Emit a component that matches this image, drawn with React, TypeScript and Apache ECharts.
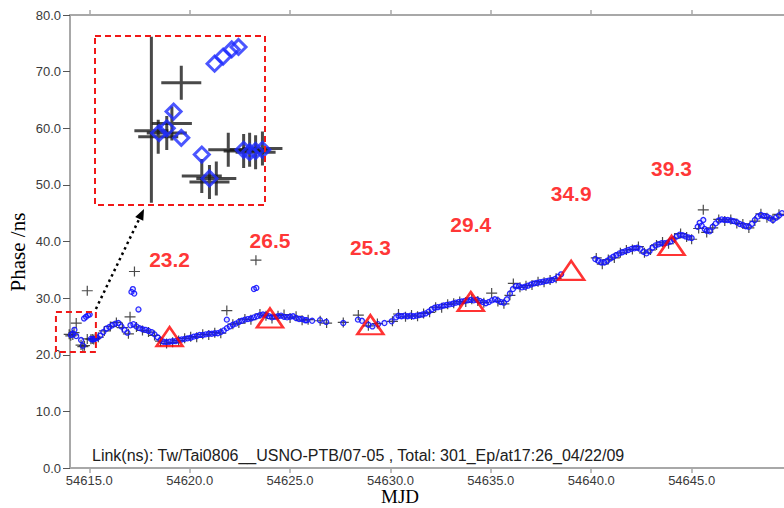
import React, { useEffect, useRef } from "react";
import * as echarts from "echarts";

// ---------- axes ----------
const xMin = 54614.04;
const xMax = 54649.6;
const xTickValues = [54615, 54620, 54625, 54630, 54635, 54640, 54645];
const yMin = 0;
const yMax = 80;
const yStep = 10;

// ---------- annotated values (red triangles) ----------
const triangleMjd = [54619, 54624, 54629, 54634, 54639, 54644];
const triangleValue = [23.2, 26.5, 25.3, 29.4, 34.9, 39.3];

// ---------- blue series (circles) ----------
const blueEarly: [number, number][] = [
  [54614.09, 23.5], [54614.18, 23.7], [54614.26, 24.4], [54614.35, 23.3], [54614.59, 22.6],
  [54614.68, 21.6], [54614.74, 26.4], [54614.84, 26.7], [54614.94, 27.0], [54615.02, 27.1],
  [54615.08, 22.8], [54615.15, 22.7], [54615.22, 22.75], [54615.3, 22.8],
];
const blueA: [number, number][] = [
  [54615.4, 23.0], [54615.55, 23.4], [54615.7, 24.0], [54615.85, 24.6], [54616.0, 24.9],
  [54616.15, 25.2], [54616.3, 25.5], [54616.45, 25.6], [54616.6, 25.0], [54616.75, 24.4],
  [54616.9, 23.9], [54617.05, 25.2], [54617.2, 25.4], [54617.35, 25.0], [54617.5, 24.7],
  [54617.65, 24.5], [54617.8, 24.4], [54617.95, 24.2], [54618.1, 24.0], [54618.25, 23.6],
  [54618.4, 23.1], [54618.55, 22.6], [54618.7, 22.3], [54618.85, 22.2], [54619.0, 22.3],
  [54619.15, 22.4], [54619.3, 22.4], [54619.45, 22.6], [54619.6, 22.7], [54619.75, 22.8],
  [54619.9, 22.9], [54620.05, 23.0], [54620.2, 23.2], [54620.35, 23.3], [54620.5, 23.5],
  [54620.65, 23.5], [54620.8, 23.6], [54620.95, 23.7], [54621.1, 23.7], [54621.25, 23.8],
  [54621.4, 23.8], [54621.55, 24.0], [54621.7, 24.3], [54621.85, 24.7], [54622.0, 25.0],
  [54622.15, 25.3], [54622.3, 25.5], [54622.45, 25.8], [54622.6, 26.0], [54622.75, 26.2],
  [54622.9, 26.3], [54623.05, 26.4], [54623.2, 26.6], [54623.35, 26.8], [54623.5, 27.0],
  [54623.65, 27.1], [54623.8, 27.0], [54623.95, 26.8], [54624.1, 26.6], [54624.25, 26.7],
  [54624.4, 26.8], [54624.55, 26.9], [54624.7, 26.7], [54624.85, 26.6], [54625.0, 26.7],
  [54625.15, 26.8], [54625.3, 26.5], [54625.45, 26.3], [54625.6, 26.3], [54625.75, 26.1],
];
const blueB: [number, number][] = [
  [54625.83, 26.1], [54626.1, 26.0], [54626.49, 26.1], [54626.8, 25.8], [54627.65, 25.6],
  [54628.38, 26.2], [54628.58, 26.0], [54628.9, 25.3], [54629.1, 25.0], [54629.38, 25.4],
  [54629.7, 25.6], [54630.06, 25.9], [54630.28, 26.6],
];
const blueC: [number, number][] = [
  [54630.4, 26.9], [54630.55, 26.8], [54630.7, 26.9], [54630.85, 26.8], [54631.0, 26.9],
  [54631.15, 26.8], [54631.3, 26.9], [54631.45, 27.0], [54631.6, 27.1], [54631.75, 27.3],
  [54631.9, 27.6], [54632.05, 28.0], [54632.2, 28.3], [54632.35, 28.4], [54632.5, 28.5],
  [54632.65, 28.7], [54632.8, 28.8], [54632.95, 28.9], [54633.1, 29.0], [54633.25, 29.2],
  [54633.4, 29.3], [54633.55, 29.4], [54633.7, 29.5], [54633.85, 29.6], [54634.0, 29.7],
  [54634.15, 29.6], [54634.3, 29.7], [54634.45, 29.5], [54634.6, 29.3], [54634.75, 29.1],
  [54634.9, 29.3], [54635.05, 29.6], [54635.2, 29.8], [54635.35, 29.6], [54635.5, 29.3],
  [54635.65, 29.2], [54635.8, 29.8], [54635.95, 30.8], [54636.1, 31.6], [54636.25, 32.1],
  [54636.4, 32.1], [54636.55, 31.9], [54636.7, 32.0], [54636.85, 32.2], [54637.0, 32.4],
  [54637.15, 32.6], [54637.3, 32.7], [54637.45, 32.8], [54637.6, 32.9], [54637.75, 33.0],
  [54637.9, 33.1], [54638.05, 33.2], [54638.2, 33.4], [54638.35, 33.8], [54638.5, 34.2],
];
const blueD: [number, number][] = [
  [54640.2, 36.9], [54640.35, 36.6], [54640.5, 36.3], [54640.65, 36.3], [54640.8, 36.6],
  [54640.95, 37.0], [54641.1, 37.3], [54641.25, 37.6], [54641.4, 37.9], [54641.55, 38.1],
  [54641.7, 38.3], [54641.85, 38.5], [54642.0, 38.7], [54642.15, 38.8], [54642.3, 38.9],
  [54642.45, 38.7], [54642.6, 38.2], [54642.75, 37.9], [54642.9, 38.3], [54643.05, 38.9],
  [54643.2, 39.3], [54643.35, 39.5], [54643.5, 39.7], [54643.65, 39.7], [54643.8, 39.8],
  [54643.95, 40.0], [54644.1, 40.4], [54644.25, 40.9], [54644.4, 41.2], [54644.55, 41.1],
  [54644.7, 40.9], [54644.85, 40.7], [54645.0, 40.6],
];
const blueE: [number, number][] = [
  [54645.3, 42.6], [54645.4, 43.3], [54645.5, 42.8], [54645.58, 43.8], [54645.65, 42.2],
  [54645.75, 41.9], [54645.9, 41.8], [54646.05, 42.6], [54646.2, 43.2], [54646.35, 43.7],
  [54646.5, 43.9], [54646.65, 43.8], [54646.8, 43.8], [54646.95, 43.7], [54647.1, 43.6],
  [54647.25, 43.4], [54647.4, 43.1], [54647.55, 42.9], [54647.7, 42.7], [54647.85, 42.6],
  [54648.0, 43.1], [54648.15, 43.8], [54648.3, 44.4], [54648.45, 44.7], [54648.6, 44.5],
  [54648.75, 44.4], [54648.9, 44.1], [54649.05, 43.8], [54649.2, 44.2], [54649.35, 44.6],
  [54649.5, 45.0],
];
const blueOutliers: [number, number][] = [
  [54617.1, 31.1], [54617.17, 31.6], [54617.24, 30.8], [54617.45, 28.0],
  [54623.2, 31.6], [54623.32, 31.8], [54621.85, 26.2],
];

// ---------- black series (crosses) ----------
const blackEarly: [number, number][] = [
  [54614.0, 23.6], [54614.08, 23.35], [54614.18, 23.5], [54614.24, 23.9], [54614.35, 25.6],
  [54614.59, 21.7], [54614.68, 21.45], [54614.76, 21.6], [54614.9, 22.8], [54615.08, 22.75],
  [54615.15, 22.8], [54615.22, 22.7], [54615.3, 22.85],
];
const blackMain: [number, number][] = [
  [54615.45, 23.1], [54615.75, 24.2], [54616.05, 25.0], [54616.35, 25.7], [54616.65, 24.8],
  [54616.95, 23.7], [54617.35, 24.9], [54617.65, 24.3], [54617.95, 24.0], [54618.25, 23.4],
  [54618.55, 22.4], [54618.85, 22.0], [54619.15, 22.2], [54619.45, 22.5], [54619.75, 22.9],
  [54620.05, 23.2], [54620.35, 23.1], [54620.65, 23.6], [54620.95, 23.5], [54621.25, 23.9],
  [54621.55, 23.8], [54622.15, 25.4], [54622.45, 25.6], [54622.75, 26.3], [54623.05, 26.2],
  [54623.5, 27.2], [54623.8, 26.9], [54624.1, 26.4], [54624.4, 26.9], [54624.7, 27.1],
  [54625.0, 26.5], [54625.3, 26.8], [54625.6, 26.1], [54625.9, 26.2], [54626.5, 26.0],
  [54626.82, 25.6], [54627.65, 25.7], [54628.4, 27.0], [54628.9, 25.1], [54629.35, 25.5],
  [54630.1, 25.9], [54630.4, 27.2], [54630.75, 26.7], [54631.05, 27.0], [54631.35, 26.8],
  [54631.65, 27.3], [54631.95, 27.5], [54632.25, 28.4], [54632.55, 28.3], [54632.85, 28.9],
  [54633.15, 29.1], [54633.45, 29.4], [54633.75, 29.3], [54634.05, 29.8], [54634.35, 29.5],
  [54634.65, 29.2], [54635.35, 29.4], [54635.65, 29.0], [54635.95, 30.5], [54636.45, 31.9],
  [54636.75, 32.2], [54637.05, 32.3], [54637.35, 32.9], [54637.65, 32.8], [54637.95, 33.2],
  [54638.25, 33.5], [54640.25, 37.1], [54640.55, 36.0], [54640.85, 36.8], [54641.15, 37.1],
  [54641.45, 38.0], [54641.75, 38.5], [54642.05, 38.6], [54642.35, 39.1], [54642.65, 38.0],
  [54642.95, 38.5], [54643.25, 39.4], [54643.55, 39.9], [54643.85, 39.6], [54644.15, 40.6],
  [54644.45, 41.4], [54644.75, 40.8], [54645.0, 40.4], [54645.35, 42.3], [54645.75, 41.6],
  [54646.05, 42.4], [54646.35, 43.9], [54646.65, 43.6], [54646.95, 43.9], [54647.25, 43.2],
  [54647.55, 43.1], [54647.85, 42.4], [54648.15, 43.6], [54648.45, 44.9], [54648.75, 44.2],
  [54649.05, 44.0], [54649.35, 44.8],
];
const blackOutliers: [number, number][] = [
  [54614.9, 31.3], [54617.03, 26.7], [54617.25, 34.7], [54621.85, 27.8], [54623.3, 36.7],
  [54635.04, 30.9], [54636.12, 32.6], [54645.58, 45.6],
];

// ---------- texts ----------
const linkText = "Link(ns): Tw/Tai0806__USNO-PTB/07-05 , Total: 301_Ep/at17:26_04/22/09";
const xName = "MJD";
const yName = "Phase /ns";

// ---------- zoom window (data units) shown in the inset ----------
const zoomMjd = [54613.34, 54615.33];
const zoomPhase = [20.49, 27.56];

// ---------- layout ----------
const W = 784;
const H = 508;
const GRID = { left: 70, top: 15, right: 0, bottom: 40 };
const INSET = { left: 95, top: 36, width: 170, height: 169 };

const SANS = '"Liberation Sans", Arial, Helvetica, sans-serif';
const SERIF = '"Liberation Serif", "Times New Roman", Times, serif';
const RED = "#ff0000";
const BLUE = "#1414ff";
const BLACK = "#2a2a2a";
const AXIS = "#a8a8a8";

const crossSmall = "path://M4.9,0H6.1V4.4H11V5.6H6.1V10H4.9V5.6H0V4.4H4.9Z";
const crossBig = "path://M18.5,0H21.5V15.5H40V18.5H21.5V34H18.5V18.5H0V15.5H18.5Z";
const crossTall = "path://M15.5,0H18.5V92.5H34V95.5H18.5V166H15.5V95.5H0V92.5H15.5Z";

export default function App() {
  const ref = useRef<HTMLDivElement>(null);

  useEffect(() => {
    if (!ref.current) return;
    const chart = echarts.init(ref.current, undefined, { renderer: "svg" });

    const blueAll = [...blueEarly, ...blueA, ...blueB, ...blueC, ...blueD, ...blueE, ...blueOutliers];
    const blackAll = [...blackEarly, ...blackMain, ...blackOutliers];
    const inZoom = (p: [number, number]) =>
      p[0] >= zoomMjd[0] && p[0] <= zoomMjd[1] && p[1] >= zoomPhase[0] && p[1] <= zoomPhase[1];

    const insetBlack = blackEarly.filter(inZoom).map((p, i) => ({
      value: p,
      symbol: i === 0 ? crossTall : crossBig,
      symbolSize: i === 0 ? [34, 166] : [40, 34],
      symbolOffset: i === 0 ? [0, -11] : [0, 0],
    }));
    const insetBlue = blueEarly.filter(inZoom);

    const option: any = {
      animation: false,
      backgroundColor: "#ffffff",
      grid: [
        { ...GRID, containLabel: false },
        { left: INSET.left, top: INSET.top, width: INSET.width, height: INSET.height, show: false },
      ],
      xAxis: [
        {
          type: "value",
          gridIndex: 0,
          min: xMin,
          max: xMax,
          position: "bottom",
          splitLine: { show: false },
          axisLine: { show: true, lineStyle: { color: AXIS, width: 2 } },
          axisTick: { show: true, customValues: xTickValues, length: 5, lineStyle: { color: AXIS, width: 1.5 } },
          axisLabel: {
            customValues: xTickValues,
            formatter: (v: number) => v.toFixed(1),
            color: "#3a3a3a",
            fontSize: 13,
            fontFamily: SANS,
            margin: 6,
          },
        },
        {
          type: "value",
          gridIndex: 0,
          min: xMin,
          max: xMax,
          position: "top",
          splitLine: { show: false },
          axisLine: { show: true, lineStyle: { color: AXIS, width: 2 } },
          axisTick: { show: true, customValues: xTickValues, length: 5, lineStyle: { color: AXIS, width: 1.5 } },
          axisLabel: { show: false },
        },
        { type: "value", gridIndex: 1, min: zoomMjd[0], max: zoomMjd[1], show: false },
      ],
      yAxis: [
        {
          type: "value",
          gridIndex: 0,
          min: yMin,
          max: yMax,
          interval: yStep,
          splitLine: { show: false },
          axisLine: { show: true, lineStyle: { color: AXIS, width: 2 } },
          axisTick: { show: true, length: 7, lineStyle: { color: "#555", width: 1 } },
          axisLabel: {
            formatter: (v: number) => v.toFixed(1),
            color: "#3a3a3a",
            fontSize: 13,
            fontFamily: SANS,
            margin: 9,
          },
        },
        { type: "value", gridIndex: 1, min: zoomPhase[0], max: zoomPhase[1], show: false },
      ],
      series: [
        {
          name: "cross",
          type: "scatter",
          xAxisIndex: 0,
          yAxisIndex: 0,
          clip: false,
          data: blackAll,
          symbol: crossSmall,
          symbolSize: [11, 10],
          itemStyle: { color: BLACK, opacity: 0.85 },
          z: 2,
        },
        {
          name: "circle",
          type: "scatter",
          xAxisIndex: 0,
          yAxisIndex: 0,
          clip: false,
          data: blueAll,
          symbol: "circle",
          symbolSize: 5,
          itemStyle: { color: "rgba(40,40,255,0.15)", borderColor: BLUE, borderWidth: 1.3, opacity: 0.9 },
          z: 3,
        },
        {
          name: "mark",
          type: "scatter",
          xAxisIndex: 0,
          yAxisIndex: 0,
          data: triangleMjd.map((m, i) => [m, triangleValue[i]]),
          symbol: "triangle",
          symbolSize: [26, 19],
          itemStyle: { color: "rgba(255,255,255,0)", borderColor: RED, borderWidth: 2.5 },
          label: {
            show: true,
            position: "top",
            distance: 56,
            formatter: (p: any) => p.value[1].toFixed(1),
            color: RED,
            fontSize: 21,
            fontWeight: "bold",
            fontFamily: SANS,
          },
          z: 4,
        },
        {
          name: "insetCross",
          type: "scatter",
          xAxisIndex: 2,
          yAxisIndex: 1,
          data: insetBlack,
          itemStyle: { color: "#1c1c1c" },
          z: 5,
        },
        {
          name: "insetCircle",
          type: "scatter",
          xAxisIndex: 2,
          yAxisIndex: 1,
          data: insetBlue,
          symbol: "diamond",
          symbolSize: 15,
          itemStyle: { color: "rgba(0,0,0,0)", borderColor: "#1e2cff", borderWidth: 3 },
          z: 6,
        },
      ],
    };
    chart.setOption(option);

    // position the annotations from the zoom window
    const a = chart.convertToPixel({ xAxisIndex: 0, yAxisIndex: 0 }, [zoomMjd[0], zoomPhase[1]]) as number[];
    const b = chart.convertToPixel({ xAxisIndex: 0, yAxisIndex: 0 }, [zoomMjd[1], zoomPhase[0]]) as number[];
    const start = [b[0], a[1] - 3];
    const tip = [INSET.left + 49, INSET.top + INSET.height + 4];
    const dx = tip[0] - start[0];
    const dy = tip[1] - start[1];
    const len = Math.sqrt(dx * dx + dy * dy);
    const ux = dx / len;
    const uy = dy / len;
    const base = [tip[0] - ux * 11, tip[1] - uy * 11];
    const px = -uy * 4.5;
    const py = ux * 4.5;
    const dashStyle = { fill: "none", stroke: "#f01818", lineWidth: 2, lineDash: [6, 4] };

    chart.setOption({
      graphic: [
        {
          type: "rect",
          silent: true,
          z: 10,
          shape: { x: a[0], y: a[1], width: b[0] - a[0], height: b[1] - a[1] },
          style: dashStyle,
        },
        {
          type: "rect",
          silent: true,
          z: 10,
          shape: { x: INSET.left, y: INSET.top, width: INSET.width, height: INSET.height },
          style: dashStyle,
        },
        {
          type: "line",
          silent: true,
          z: 10,
          shape: { x1: start[0], y1: start[1], x2: base[0], y2: base[1] },
          style: { stroke: "#000", lineWidth: 2.5, lineDash: [2.5, 3.5] },
        },
        {
          type: "polygon",
          silent: true,
          z: 10,
          shape: {
            points: [
              [tip[0], tip[1]],
              [base[0] + px, base[1] + py],
              [base[0] - px, base[1] - py],
            ],
          },
          style: { fill: "#000" },
        },
        {
          type: "text",
          silent: true,
          z: 10,
          x: 92,
          y: 455,
          style: {
            text: linkText,
            fill: "#202020",
            font: `16px ${SANS}`,
            textAlign: "left",
            textVerticalAlign: "middle",
          },
        },
        {
          type: "text",
          silent: true,
          z: 10,
          x: 400,
          y: 506,
          style: {
            text: xName,
            fill: "#000",
            font: `19px ${SERIF}`,
            textAlign: "center",
            textVerticalAlign: "bottom",
          },
        },
        {
          type: "text",
          silent: true,
          z: 10,
          x: 18,
          y: 252,
          rotation: Math.PI / 2,
          style: {
            text: yName,
            fill: "#000",
            font: `21px ${SERIF}`,
            textAlign: "center",
            textVerticalAlign: "middle",
          },
        },
      ],
    });

    return () => chart.dispose();
  }, []);

  return (
    <div
      ref={ref}
      style={{ position: "fixed", left: 0, top: 0, width: W, height: H, background: "#fff" }}
    />
  );
}
